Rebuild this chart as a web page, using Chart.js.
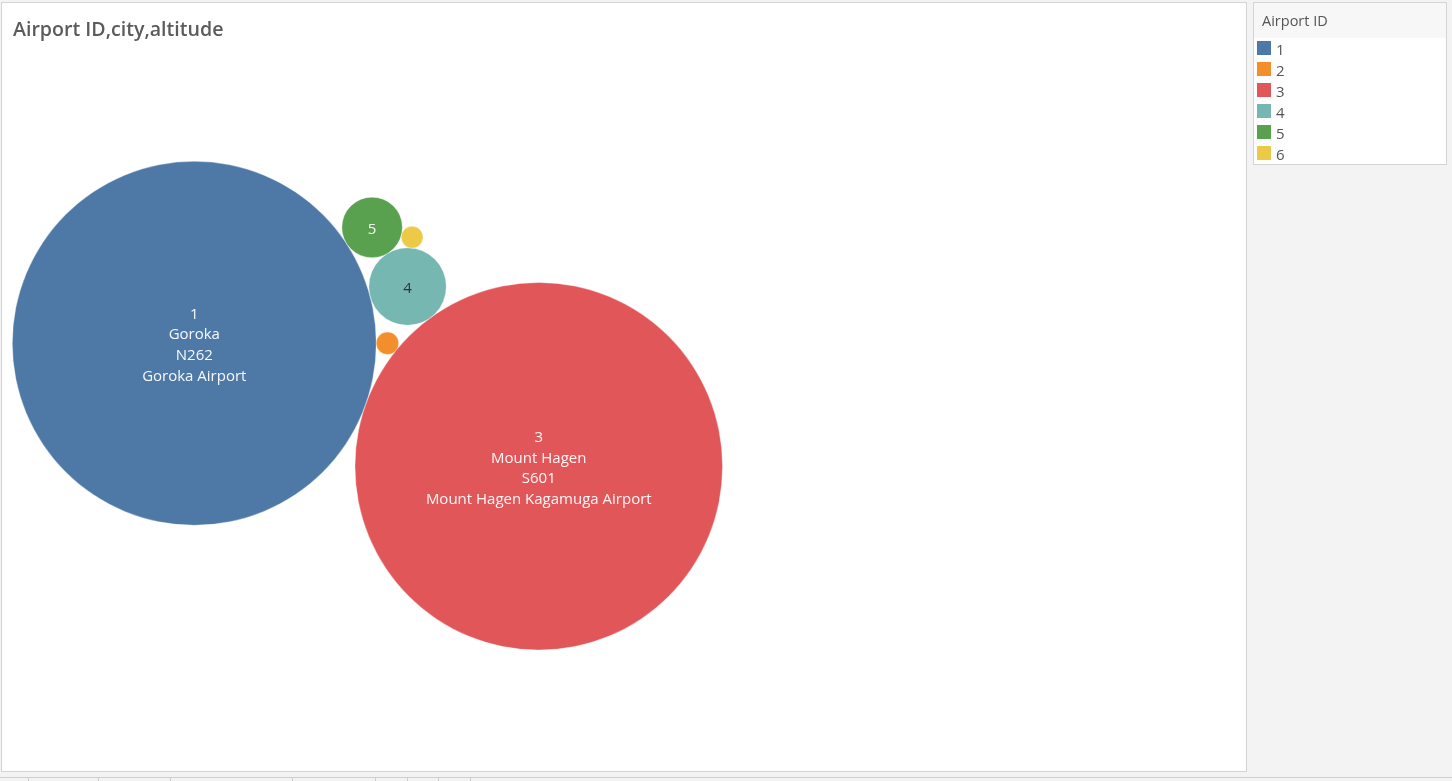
<!DOCTYPE html>
<html><head><meta charset="utf-8">
<script src="https://cdn.jsdelivr.net/npm/chart.js@4.4.1/dist/chart.umd.min.js"></script>
<style>html,body{margin:0;padding:0;background:#f3f3f3;overflow:hidden}canvas{display:block}</style>
</head><body>
<canvas id="c" width="1452" height="781"></canvas>
<script>
// ---- data ----
const airportIds   = ['1', '2', '3', '4', '5', '6'];
const cities       = ['Goroka', 'Madang', 'Mount Hagen', 'Nadzab', 'Port Moresby', 'Wewak'];
const labelCodes   = ['N262', null, 'S601', null, null, null];
const airportNames = ['Goroka Airport', 'Madang Airport', 'Mount Hagen Kagamuga Airport',
                      'Nadzab Airport', 'Port Moresby Jacksons International Airport', 'Wewak International Airport'];
const altitudes    = [5282, 20, 5388, 239, 146, 19];
const titleText    = 'Airport ID,city,altitude';
const legendTitle  = 'Airport ID';

// ---- style ----
const colors = ['#4e79a7', '#f28e2b', '#e15759', '#76b7b2', '#59a14f', '#edc948'];
const PX_PER_UNIT = 2.504;          // bubble size scale: pixels per sqrt(altitude)
const LABEL_FONT = '15px "Open Sans"';
const LABEL_LH = 20.7;

// ---- packed-bubble layout (each bubble laid tangent to two earlier ones) ----
const packAgainst = [null, [0], [0, 1], [2, 0], [3, 0], [3, 4]];
const rad = altitudes.map(a => Math.sqrt(a));
const pos = [];
pos[0] = {x: 0, y: 0};
pos[1] = {x: rad[0] + rad[1], y: 0};
for (let i = 2; i < altitudes.length; i++) {
  const [ia, ib] = packAgainst[i];
  const A = pos[ia], B = pos[ib];
  const dx = B.x - A.x, dy = B.y - A.y, d = Math.hypot(dx, dy);
  const da = rad[ia] + rad[i], db = rad[ib] + rad[i];
  const along = (da * da - db * db + d * d) / (2 * d);
  const h = Math.sqrt(Math.max(0, da * da - along * along));
  const ux = dx / d, uy = dy / d;
  pos[i] = {x: A.x + along * ux - h * uy, y: A.y + along * uy + h * ux};
}
const minX = Math.min(...pos.map((p, i) => p.x - rad[i]));
const minY = Math.min(...pos.map((p, i) => p.y - rad[i]));

const AREA = {left: 3, top: 3, right: 1245, bottom: 770};
const xMin = minX - 9.3 / PX_PER_UNIT;
const xMax = xMin + (AREA.right - AREA.left) / PX_PER_UNIT;
const yMin = minY - 158.3 / PX_PER_UNIT;
const yMax = yMin + (AREA.bottom - AREA.top) / PX_PER_UNIT;

function lum(hex) {
  const c = [1, 3, 5].map(k => parseInt(hex.substr(k, 2), 16) / 255)
    .map(v => v <= 0.03928 ? v / 12.92 : Math.pow((v + 0.055) / 1.055, 2.4));
  return 0.2126 * c[0] + 0.7152 * c[1] + 0.0722 * c[2];
}

const framePlugin = {
  id: 'frame',
  beforeDraw(chart) {
    const ctx = chart.ctx, W = chart.width, H = chart.height;
    ctx.save();
    ctx.fillStyle = '#f3f3f3';
    ctx.fillRect(0, 0, W, H);
    // main pane
    ctx.fillStyle = '#ffffff';
    ctx.fillRect(2, 3, 1244, 768);
    ctx.strokeStyle = '#d4d4d4';
    ctx.lineWidth = 1;
    ctx.strokeRect(1.5, 2.5, 1245, 769);
    // title
    ctx.fillStyle = '#5b5b5b';
    ctx.font = '600 19.6px "Open Sans"';
    ctx.textBaseline = 'alphabetic';
    ctx.textAlign = 'left';
    ctx.fillText(titleText, 13, 36);
    // legend
    ctx.fillStyle = '#ffffff';
    ctx.fillRect(1254, 3, 192, 161);
    ctx.fillStyle = '#f7f7f7';
    ctx.fillRect(1254, 3, 192, 35);
    ctx.strokeStyle = '#d4d4d4';
    ctx.strokeRect(1253.5, 2.5, 193, 162);
    ctx.fillStyle = '#555555';
    ctx.font = '14.5px "Open Sans"';
    ctx.fillText(legendTitle, 1262, 26);
    ctx.font = '15px "Open Sans"';
    airportIds.forEach((id, i) => {
      const top = 40.7 + 21 * i;
      ctx.fillStyle = colors[i];
      ctx.fillRect(1257, Math.round(top), 14, 14);
      ctx.fillStyle = '#555555';
      ctx.fillText(id, 1276, Math.round(top) + 14);
    });
    // sheet tab strip
    ctx.strokeStyle = '#cfcfcf';
    ctx.beginPath();
    ctx.moveTo(0, 777.5); ctx.lineTo(W, 777.5);
    [28, 98, 170, 292, 375, 407, 438, 470].forEach(x => {
      ctx.moveTo(x + 0.5, 778); ctx.lineTo(x + 0.5, H);
    });
    ctx.stroke();
    ctx.restore();
  },
  afterDatasetsDraw(chart) {
    const ctx = chart.ctx;
    const meta = chart.getDatasetMeta(0);
    ctx.save();
    ctx.font = LABEL_FONT;
    ctx.textAlign = 'center';
    ctx.textBaseline = 'alphabetic';
    meta.data.forEach((el, i) => {
      const r = el.options.radius;
      const full = [airportIds[i], cities[i], labelCodes[i], airportNames[i]];
      let lines = null;
      const fits = ls => ls.every(s => s != null) &&
        ls.length * LABEL_LH <= r * 1.2 &&
        Math.max(...ls.map(s => ctx.measureText(s).width)) <= r * 1.8;
      if (fits(full)) lines = full;
      else if (fits([airportIds[i]])) lines = [airportIds[i]];
      if (!lines) return;
      ctx.fillStyle = lum(colors[i]) > 0.35 ? '#333333' : 'rgba(255,255,255,0.95)';
      const n = lines.length;
      lines.forEach((s, k) => {
        const capCenter = el.y + 1.2 + (k - (n - 1) / 2) * LABEL_LH;
        ctx.fillText(s, el.x, capCenter + 5.35);
      });
    });
    ctx.restore();
  }
};

new Chart(document.getElementById('c'), {
  type: 'bubble',
  data: {
    labels: airportIds,
    datasets: [{
      label: legendTitle,
      data: pos.map(p => ({x: p.x, y: p.y})),
      backgroundColor: colors,
      borderColor: 'rgba(255,255,255,0.35)',
      borderWidth: 1,
      radius: ctx => ctx.type === 'data' ? Math.sqrt(altitudes[ctx.dataIndex]) * PX_PER_UNIT : 3,
      clip: false
    }]
  },
  options: {
    responsive: false,
    animation: false,
    events: [],
    layout: {autoPadding: false, padding: {left: AREA.left, top: AREA.top, right: 1452 - AREA.right, bottom: 781 - AREA.bottom}},
    scales: {
      x: {type: 'linear', display: false, min: xMin, max: xMax, bounds: 'data'},
      y: {type: 'linear', display: false, reverse: true, min: yMin, max: yMax, bounds: 'data'}
    },
    plugins: {legend: {display: false}, title: {display: false}, tooltip: {enabled: false}}
  },
  plugins: [framePlugin]
});
</script>
</body></html>
